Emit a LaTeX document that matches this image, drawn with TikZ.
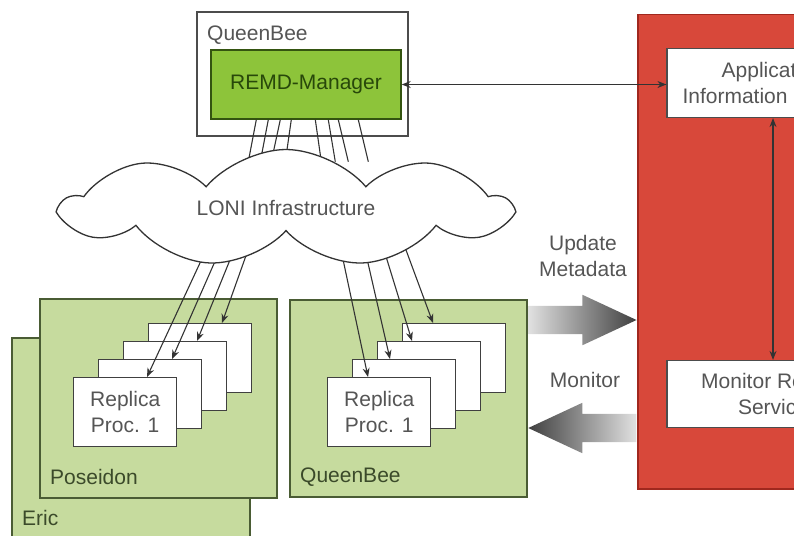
\documentclass[tikz,border=0pt]{standalone}
\usepackage{fontspec}
\setmainfont{Liberation Sans}
\usetikzlibrary{arrows.meta, shapes.symbols, shapes.arrows, calc}
\definecolor{hostgreen}{RGB}{198,219,158}
\definecolor{hostline}{RGB}{74,92,52}
\definecolor{remdgreen}{RGB}{141,196,58}
\definecolor{remdline}{RGB}{52,84,16}
\definecolor{remdtext}{RGB}{40,72,10}
\definecolor{migolred}{RGB}{216,72,58}
\definecolor{migolline}{RGB}{160,40,30}
\definecolor{txtgray}{RGB}{85,85,85}
\tikzset{
  host/.style    = {draw=hostline, fill=hostgreen, line width=1.6pt, inner sep=0pt},
  replica/.style = {draw=black!75, fill=white, line width=1.4pt, minimum width=103pt,
                    minimum height=69pt, inner sep=0pt, align=center, text=txtgray},
  svc/.style     = {draw=black!70, fill=white, line width=1.2pt, minimum width=212pt,
                    minimum height=69pt, inner sep=0pt, align=center, text=txtgray},
  lbl/.style     = {anchor=west, inner sep=0pt, text=hostline!80!black},
  link/.style    = {draw=black!80, line width=1.1pt},
  arr/.style     = {link, -{Stealth[length=9pt, width=7pt]}},
  dblarr/.style  = {link, {Stealth[length=9pt, width=7pt]}-{Stealth[length=9pt, width=7pt]}},
  flow/.style    = {single arrow, single arrow head extend=11pt, single arrow tip angle=50,
                    inner xsep=0pt, inner ysep=14pt, minimum height=108pt, draw=none},
}
\begin{document}
\begin{tikzpicture}[x=1pt, y=-1pt, font=\fontsize{21}{26}\selectfont]
  \useasboundingbox (0,0) rectangle (794,535);
  \clip (0,0) rectangle (794,535);

  \node[draw=migolline, fill=migolred, line width=1.5pt, minimum width=280pt,
    minimum height=474pt, anchor=north west] (migol) at (637,14) {};
  \node[svc] (ais) at (773,83) {Application\\Information Service};
  \node[svc, minimum height=67pt] (mrs) at (773,394) {Monitor Restart\\Service};
  \draw[dblarr] (ais) -- (mrs);

  \node[draw=black!70, fill=white, line width=1.4pt, minimum width=211pt,
    minimum height=124pt] (qbtop) at (302.5,74) {};
  \node[lbl, text=txtgray] (qbtoplbl) at (207,35) {QueenBee};
  \node[draw=remdline, fill=remdgreen, line width=1.4pt, minimum width=190pt,
    minimum height=69pt, text=remdtext] (remd) at (306,84.5) {REMD-Manager};
  \draw[dblarr] (remd.east) -- (remd.east -| ais.west);
  \foreach \a/\b in {46/38, 58/50, 70/61, 81/75, 105/111, 118/125, 128/138, 148/158}
    \draw[link] ($(remd.south west)+(\a,0)$) -- ($(remd.south west)+(\b,42)$);

  \node[host, minimum width=238pt, minimum height=222pt] (eric) at (131,449) {};
  \node[lbl] (ericlbl) at (22,518) {Eric};
  \node[host, minimum width=237pt, minimum height=199pt] (poseidon) at (158.5,398.5) {};
  \node[lbl] (poslbl) at (50,477) {Poseidon};
  \node[host, minimum width=237pt, minimum height=197pt] (qbhost) at (408.5,398.5) {};
  \node[lbl] (qblbl) at (300,477) {QueenBee};

  \foreach \i in {3,2,1} {
    \node[replica, anchor=north west] (pr\i) at (73+25*\i, 377-18*\i) {};
    \node[replica, anchor=north west] (qr\i) at (327+25*\i, 377-18*\i) {};
  }
  \node[replica, anchor=north west] (pr0) at (73,377) {Replica\\Proc. 1};
  \node[replica, anchor=north west] (qr0) at (327,377) {Replica\\Proc. 1};

  \foreach \i/\sx in {0/206, 1/220, 2/234, 3/248} {
    \coordinate (ps\i) at (\sx,250);
    \draw[arr] (ps\i) -- ($(pr\i.north west)+(74,0)$);
  }
  \foreach \i/\sx/\tx in {0/341/41, 1/365/38, 2/384/35, 3/406/31} {
    \coordinate (qs\i) at (\sx,250);
    \draw[arr] (qs\i) -- ($(qr\i.north west)+(\tx,0)$);
  }

  \node[cloud, draw=black!80, fill=white, line width=1.3pt, cloud puffs=9,
    cloud puff arc=100, aspect=3.8, minimum width=446pt, minimum height=117pt,
    inner sep=0pt, text=txtgray] (loni) at (286,208) {LONI Infrastructure};

  \node[flow, left color=black!12, right color=black!75, anchor=tip]
    (upd) at (migol.west |- 0,320) {};
  \node[flow, shape border rotate=180, left color=black!75, right color=black!12,
    anchor=tip] (mon) at (qbhost.east |- 0,428) {};
  \node[text=txtgray, align=center] (updlbl) at (583,256) {Update\\Metadata};
  \node[text=txtgray] (monlbl) at (585,380) {Monitor};
\end{tikzpicture}
\end{document}
